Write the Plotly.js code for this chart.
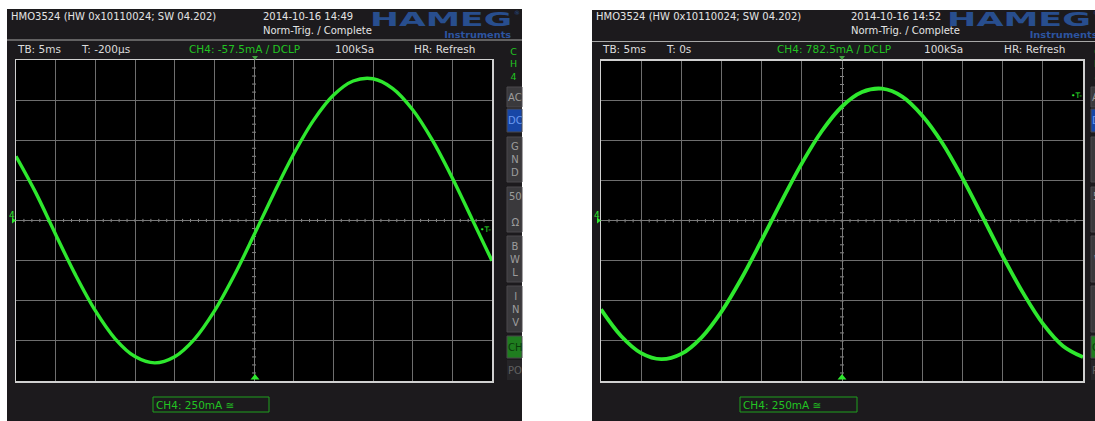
<!DOCTYPE html>
<html>
<head>
<meta charset="utf-8">
<script src="https://cdn.plot.ly/plotly-3.0.1.min.js"></script>
<style>
  html, body { margin: 0; padding: 0; background: #ffffff; }
  #chart { width: 1095px; height: 421px; }
</style>
</head>
<body>
<div id="chart"></div>
<script>
// ---- Data (time in ms, current in mA) ----
const timeMs = [-30, -27.5, -25, -22.5, -20, -17.5, -15, -12.5, -10, -7.5, -5, -2.5, 0,
                2.5, 5, 7.5, 10, 12.5, 15, 17.5, 20, 22.5, 25, 27.5, 30];
const ch4LeftMa = [400, 172, -87, -339, -562, -737, -848, -887, -849, -739, -565, -343, -91,
                   169, 414, 624, 780, 869, 883, 822, 690, 499, 265, 7, -251];
const ch4RightMa = [-553, -719, -826, -864, -831, -729, -567, -359, -121, 124, 358, 560, 713,
                    803, 824, 775, 656, 484, 266, 24, -221, -447, -642, -781, -851];
const triggerLevelsMa = [-57.5, 782.5];

const headerLine = "HMO3524 (HW 0x10110024; SW 04.202)";
const timestamps = ["2014-10-16 14:49", "2014-10-16 14:52"];
const trigMode = "Norm-Trig. / Complete";
const timebase = "TB: 5ms";
const triggerTimes = ["T: -200µs", "T: 0s"];
const channelInfo = ["CH4: -57.5mA / DCLP", "CH4: 782.5mA / DCLP"];
const sampleRate = "100kSa";
const hrMode = "HR: Refresh";
const scaleLabel = "CH4: 250mA ≅";
const buttonLabels = ["AC", "DC", "G<br>N<br>D", "50<br><br>Ω", "B<br>W<br>L", "I<br>N<br>V", "CH", "PO"];

// ---- Geometry helpers (pixels -> paper) ----
const W = 1095, H = 421;
const PX = x => x / W;
const PY = y => 1 - y / H;

const panels = [
  {bx0: 7, by0: 9, bx1: 522, sepY: 40, px0: 16, px1: 492, py0: 60, py1: 381, dx: 0,
   btnX0: 507, btnX1: 522, chX: 513, markX: 255, logoC: 441, logoW: 142, instC: 478, instW: 67,
   boxX0: 153, boxX1: 269, xs: ['x', 'y']},
  {bx0: 592, by0: 10, bx1: 1095, sepY: 41.5, px0: 601, px1: 1083, py0: 60.5, py1: 381, dx: 585,
   btnX0: 1091, btnX1: 1106, chX: 1097, markX: 842, logoC: 1019, logoW: 144, instC: 1064, instW: 68,
   boxX0: 740, boxX1: 857, xs: ['x2', 'y2']}
];

const GREEN = '#2ee82e';
const TXTGREEN = '#22c422';
const FONT = 'DejaVu Sans';

function rect(x0, y0, x1, y1, fill, lineColor, lw, layer) {
  return {type: 'rect', xref: 'paper', yref: 'paper',
    x0: PX(x0), x1: PX(x1), y0: PY(y1), y1: PY(y0),
    fillcolor: fill, line: {color: lineColor || 'rgba(0,0,0,0)', width: lineColor ? (lw || 1) : 0},
    layer: layer || 'below'};
}
function pathPx(pts, fill, layer) {
  const d = pts.map((p, i) => (i ? 'L ' : 'M ') + PX(p[0]) + ' ' + PY(p[1])).join(' ') + ' Z';
  return {type: 'path', xref: 'paper', yref: 'paper', path: d, fillcolor: fill,
    line: {width: 0}, layer: layer || 'above'};
}
function lineShape(xref, yref, x0, y0, x1, y1, color) {
  return {type: 'line', xref: xref, yref: yref, x0: x0, y0: y0, x1: x1, y1: y1,
    line: {color: color, width: 1}, layer: 'below'};
}
function txt(s, x, y, size, color, opts) {
  return Object.assign({text: s, xref: 'paper', yref: 'paper', x: PX(x), y: PY(y),
    xanchor: 'left', yanchor: 'middle', showarrow: false, borderpad: 0,
    font: {family: FONT, size: size, color: color}}, opts || {});
}

const shapes = [];
const annotations = [];

const buttonRows = [[87, 107], [109, 132], [137, 182], [187, 232], [236, 282], [286, 332], [336, 358], [360, 380]];

panels.forEach((p, k) => {
  // panel background
  shapes.push(rect(p.bx0, p.by0, p.bx1, H, '#1c1a1d'));
  // header separator
  shapes.push(rect(p.bx0, p.sepY - 0.6, p.bx1, p.sepY + 0.6, '#a8a8a8'));
  // plot area
  shapes.push(rect(p.px0, p.py0, p.px1, p.py1, '#000000'));
  // buttons
  buttonRows.forEach((r, i) => {
    let fill = '#3a393c', tcol = '#9c9c9c';
    if (i === 1) { fill = '#1746a6'; tcol = '#6a98f0'; }
    if (i === 6) { fill = '#1f7d1f'; tcol = '#0b3a0b'; }
    if (i === 7) { fill = '#262528'; tcol = '#606060'; }
    shapes.push(rect(p.btnX0, r[0], p.btnX1, r[1], fill, i === 7 ? null : '#4a494c', 1));
    annotations.push(txt(buttonLabels[i], (p.btnX0 + p.btnX1) / 2 + 0.5, (r[0] + r[1]) / 2, 10, tcol,
      {xanchor: 'center'}));
  });
  annotations.push(txt('C<br>H<br>4', p.chX, 64, 9.5, TXTGREEN, {xanchor: 'center'}));

  // header texts
  annotations.push(txt(headerLine, 10 + p.dx, 16.5, 10, '#e4e4e4'));
  annotations.push(txt(timestamps[k], 262 + p.dx * 1.0 + (k ? 3 : 0), 16.5, 10, '#e4e4e4'));
  annotations.push(txt(trigMode, 262 + p.dx + (k ? 3 : 0), 30, 10, '#e4e4e4'));
  annotations.push(txt('HAMEG', p.logoC, 19, 19.5, '#284e8e', {xanchor: 'center', font: {family: FONT, size: 19.5, color: '#284e8e', weight: 'bold'}}));
  annotations.push(txt('Instruments', p.instC, 34, 9.5, '#2c54a0', {xanchor: 'center', font: {family: FONT, size: 9.5, color: '#2c54a0', weight: 'bold'}}));
  annotations.push(txt('®', p.logoC + p.logoW / 2 + 1, 13, 6, '#284e8e'));

  // info row
  annotations.push(txt(timebase, 16 + p.dx, 48.5, 10.5, '#dcdcdc'));
  annotations.push(txt(triggerTimes[k], 80 + p.dx, 48.5, 10.5, '#dcdcdc'));
  annotations.push(txt(channelInfo[k], 188 + p.dx + (k ? 3 : 0), 48.5, 10.5, TXTGREEN));
  annotations.push(txt(sampleRate, 334 + p.dx + (k ? 4 : 0), 48.5, 10.5, '#dcdcdc'));
  annotations.push(txt(hrMode, 413 + p.dx + (k ? 5 : 0), 48.5, 10.5, '#dcdcdc'));

  // bottom scale box
  shapes.push(rect(p.boxX0, 397, p.boxX1, 412, 'rgba(0,0,0,0)', '#1fa01f', 1, 'above'));
  annotations.push(txt(scaleLabel, p.boxX0 + 1.5, 404.5, 10.5, TXTGREEN));

  // trigger position markers
  shapes.push(pathPx([[p.markX - 3, 56], [p.markX + 3, 56], [p.markX, 60]], '#3fa03f'));
  shapes.push(pathPx([[p.markX - 4.5, 379.5], [p.markX + 4.5, 379.5], [p.markX, 374]], GREEN));
  // channel ground marker
  annotations.push(txt('4', p.bx0 + 1, 215, 9, GREEN));
  shapes.push(pathPx([[p.px0 - 4, 217.5], [p.px0, 220.5], [p.px0 - 4, 223.5]], GREEN));
  // trigger level marker
  annotations.push({text: '•T-', xref: p.xs[0] + ' domain', yref: p.xs[1], x: 1, y: triggerLevelsMa[k],
    xanchor: 'right', yanchor: 'middle', showarrow: false, borderpad: 0,
    font: {family: FONT, size: 7.5, color: GREEN}});

  // crosshair minor ticks
  const xr = p.xs[0], yr = p.xs[1];
  for (let t = -29; t <= 29; t++) {
    shapes.push(lineShape(xr, yr, t, -10, t, 10, '#8a8a8a'));
  }
  for (let v = -950; v <= 950; v += 50) {
    shapes.push(lineShape(xr, yr, -0.25, v, 0.25, v, '#8a8a8a'));
  }
});

const axisCommon = {
  showgrid: true, gridcolor: '#6e6e6e', gridwidth: 1,
  zeroline: true, zerolinecolor: '#7a7a7a', zerolinewidth: 1,
  showline: true, linecolor: '#d0d0d0', linewidth: 1.5, mirror: true,
  showticklabels: false, ticks: '', fixedrange: true
};

const layout = {
  width: W, height: H,
  margin: {l: 0, r: 0, t: 0, b: 0},
  paper_bgcolor: '#ffffff', plot_bgcolor: '#000000',
  showlegend: false,
  xaxis: Object.assign({}, axisCommon, {domain: [PX(16), PX(492)], range: [-30, 30], dtick: 5, tick0: 0, anchor: 'y'}),
  yaxis: Object.assign({}, axisCommon, {domain: [PY(381), PY(60)], range: [-1000, 1000], dtick: 250, tick0: 0, anchor: 'x'}),
  xaxis2: Object.assign({}, axisCommon, {domain: [PX(601), PX(1083)], range: [-30, 30], dtick: 5, tick0: 0, anchor: 'y2'}),
  yaxis2: Object.assign({}, axisCommon, {domain: [PY(381), PY(60.5)], range: [-1000, 1000], dtick: 250, tick0: 0, anchor: 'x2'}),
  shapes: shapes,
  annotations: annotations
};

const traces = [
  {x: timeMs, y: ch4LeftMa, xaxis: 'x', yaxis: 'y', mode: 'lines', hoverinfo: 'skip',
   line: {color: GREEN, width: 3.4, shape: 'spline', smoothing: 1}},
  {x: timeMs, y: ch4RightMa, xaxis: 'x2', yaxis: 'y2', mode: 'lines', hoverinfo: 'skip',
   line: {color: GREEN, width: 3.8, shape: 'spline', smoothing: 1}}
];

Plotly.newPlot('chart', traces, layout, {displayModeBar: false, staticPlot: true}).then(gd => {
  const logoW = panels.map(p => p.logoW), instW = panels.map(p => p.instW);
  let li = 0, ii = 0;
  gd.querySelectorAll('text.annotation-text').forEach(t => {
    if (t.textContent === 'HAMEG') {
      t.setAttribute('textLength', logoW[li++]);
      t.setAttribute('lengthAdjust', 'spacingAndGlyphs');
    } else if (t.textContent === 'Instruments') {
      t.setAttribute('textLength', instW[ii++]);
      t.setAttribute('lengthAdjust', 'spacingAndGlyphs');
    }
  });
});
</script>
</body>
</html>
